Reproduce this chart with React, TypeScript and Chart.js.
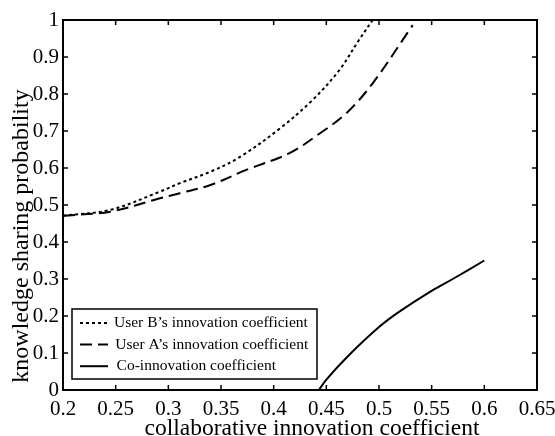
import React, { useEffect, useRef } from "react";
import { Chart, registerables } from "chart.js";

Chart.register(...registerables);

const FONT = "'Liberation Serif', 'DejaVu Serif', serif";

// Series
const userBX = [0.2, 0.245, 0.292, 0.311, 0.34, 0.368, 0.406, 0.437, 0.4625, 0.481, 0.494];
const userBY = [0.471, 0.487, 0.536, 0.559, 0.59, 0.63, 0.707, 0.784, 0.865, 0.946, 1.0];

const userAX = [0.2, 0.245, 0.292, 0.311, 0.34, 0.374, 0.415, 0.444, 0.469, 0.494, 0.532];
const userAY = [0.471, 0.482, 0.518, 0.532, 0.554, 0.595, 0.64, 0.694, 0.748, 0.829, 0.986];

const coX = [0.443, 0.45, 0.47, 0.5, 0.52, 0.55, 0.57, 0.6];
const coY = [0, 0.028, 0.09, 0.17, 0.213, 0.268, 0.3, 0.35];

const seriesLabels = [
  "User B\u2019s innovation coefficient",
  "User A\u2019s innovation coefficient",
  "Co-innovation coefficient",
];

const xTicks = [0.2, 0.25, 0.3, 0.35, 0.4, 0.45, 0.5, 0.55, 0.6, 0.65];
const yTicks = [0, 0.1, 0.2, 0.3, 0.4, 0.5, 0.6, 0.7, 0.8, 0.9, 1];

const xTitle = "collaborative innovation coefficient";
const yTitle = "knowledge sharing probability";

const toPoints = (xs: number[], ys: number[]) => xs.map((x, i) => ({ x, y: ys[i] }));

const framePlugin = {
  id: "frameAndLegend",
  afterDraw(chart: any) {
    const { ctx, chartArea } = chart;
    const { left, right, top, bottom } = chartArea;
    const xs = chart.scales.x;
    const ys = chart.scales.y;
    ctx.save();
    ctx.strokeStyle = "#000";
    // ticks
    ctx.lineWidth = 1.5;
    const tl = 5;
    ctx.beginPath();
    xTicks.forEach((v) => {
      const px = xs.getPixelForValue(v);
      ctx.moveTo(px, bottom);
      ctx.lineTo(px, bottom - tl);
      ctx.moveTo(px, top);
      ctx.lineTo(px, top + tl);
    });
    yTicks.forEach((v) => {
      const py = ys.getPixelForValue(v);
      ctx.moveTo(left, py);
      ctx.lineTo(left + tl, py);
      ctx.moveTo(right, py);
      ctx.lineTo(right - tl, py);
    });
    ctx.stroke();
    // frame
    ctx.lineWidth = 2;
    ctx.strokeRect(left, top, right - left, bottom - top);

    // axis titles
    ctx.fillStyle = "#000";
    ctx.font = `23.5px ${FONT}`;
    ctx.textAlign = "center";
    ctx.textBaseline = "alphabetic";
    ctx.fillText(xTitle, left + (right - left) / 2 + 12, 435);
    ctx.font = `24px ${FONT}`;
    ctx.save();
    ctx.translate(28, top + (bottom - top) / 2 + 31);
    ctx.rotate(-Math.PI / 2);
    ctx.fillText(yTitle, 0, 0);
    ctx.restore();

    // legend
    const lx = left + 9;
    const ly = 309;
    const lw = 245;
    const lh = 70;
    ctx.fillStyle = "#fff";
    ctx.fillRect(lx, ly, lw, lh);
    ctx.lineWidth = 1.5;
    ctx.strokeRect(lx, ly, lw, lh);
    ctx.font = `15.5px ${FONT}`;
    ctx.textBaseline = "middle";
    ctx.textAlign = "left";
    ctx.fillStyle = "#000";
    chart.data.datasets.forEach((ds: any, i: number) => {
      const yy = ly + 14 + i * 21.6;
      ctx.save();
      ctx.lineWidth = 2;
      ctx.setLineDash(ds.borderDash || []);
      ctx.beginPath();
      ctx.moveTo(lx + 8, yy);
      ctx.lineTo(lx + 36, yy);
      ctx.stroke();
      ctx.restore();
      ctx.fillText(ds.label, lx + 42 + i * 1.3, yy);
    });
    ctx.restore();
  },
};

export default function App() {
  const ref = useRef<HTMLCanvasElement | null>(null);
  useEffect(() => {
    document.body.style.margin = "0";
    if (!ref.current) return;
    const chart = new Chart(ref.current, {
      type: "line",
      data: {
        datasets: [
          {
            label: seriesLabels[0],
            data: toPoints(userBX, userBY),
            borderColor: "#000",
            borderWidth: 2,
            borderDash: [3, 3],
            pointRadius: 0,
            tension: 0.35,
            fill: false,
          },
          {
            label: seriesLabels[1],
            data: toPoints(userAX, userAY),
            borderColor: "#000",
            borderWidth: 2,
            borderDash: [12, 6],
            pointRadius: 0,
            tension: 0.35,
            fill: false,
          },
          {
            label: seriesLabels[2],
            data: toPoints(coX, coY),
            borderColor: "#000",
            borderWidth: 2,
            pointRadius: 0,
            tension: 0.35,
            fill: false,
          },
        ],
      },
      options: {
        animation: false,
        responsive: true,
        maintainAspectRatio: false,
        layout: { padding: { left: 0, right: 18, top: 20, bottom: 0 } },
        plugins: { legend: { display: false }, tooltip: { enabled: false } },
        scales: {
          x: {
            type: "linear",
            min: 0.2,
            max: 0.65,
            afterFit: (s: any) => {
              s.height = 46;
              s.paddingLeft = 0;
              s.paddingRight = 0;
            },
            afterBuildTicks: (s: any) => {
              s.ticks = xTicks.map((v) => ({ value: v }));
            },
            ticks: {
              color: "#000",
              font: { family: FONT, size: 21 },
              padding: 7,
              maxRotation: 0,
              autoSkip: false,
              callback: (v: any) => String(Math.round(Number(v) * 100) / 100),
            },
            grid: { display: false, drawTicks: false },
            border: { display: false },
            title: { display: false },
          },
          y: {
            type: "linear",
            min: 0,
            max: 1,
            afterFit: (s: any) => {
              s.width = 63;
              s.paddingTop = 0;
              s.paddingBottom = 0;
            },
            afterBuildTicks: (s: any) => {
              s.ticks = yTicks.map((v) => ({ value: v }));
            },
            ticks: {
              color: "#000",
              font: { family: FONT, size: 21 },
              padding: 4,
              autoSkip: false,
              callback: (v: any) => String(Math.round(Number(v) * 10) / 10),
            },
            grid: { display: false, drawTicks: false },
            border: { display: false },
            title: { display: false },
          },
        },
      },
      plugins: [framePlugin],
    });
    return () => chart.destroy();
  }, []);
  return (
    <div style={{ width: 555, height: 436, position: "relative", background: "#fff" }}>
      <canvas ref={ref} />
    </div>
  );
}
